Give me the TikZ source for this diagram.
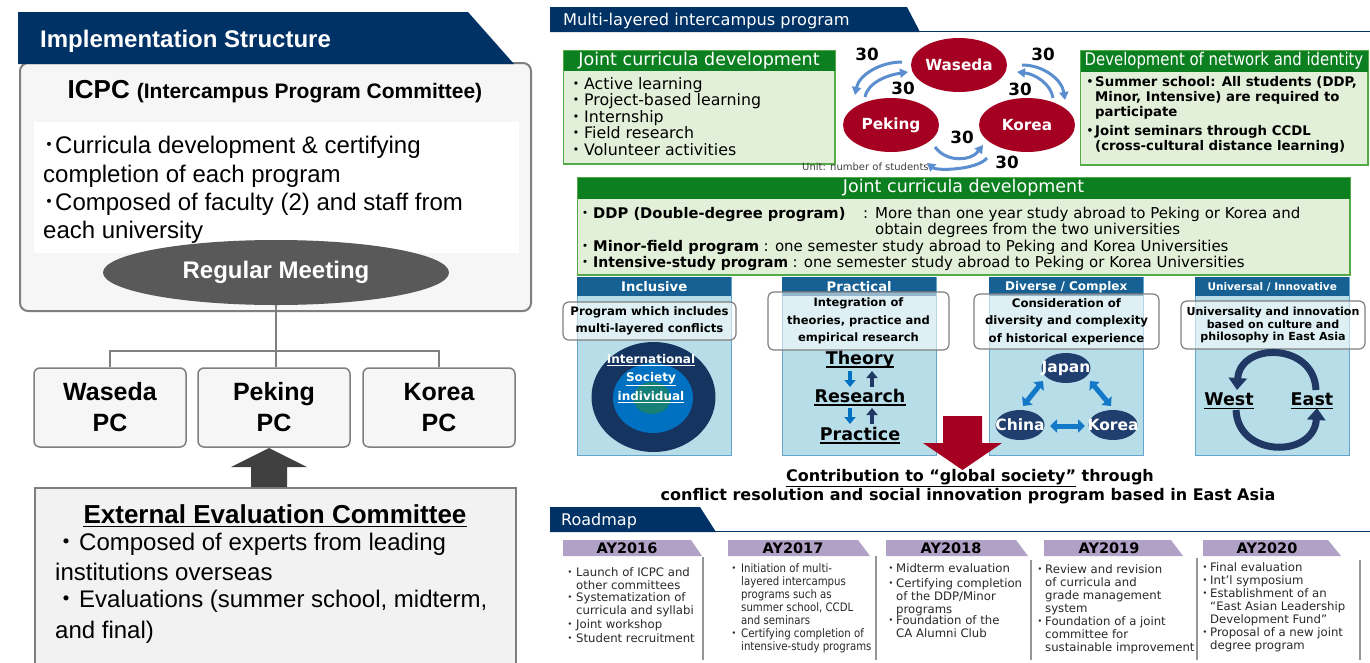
\documentclass[tikz,border=0pt]{standalone}
\usepackage{fontspec}
\setmainfont{Liberation Sans}
\newfontfamily\dv{DejaVu Sans}
\newfontfamily\jp{Noto Sans CJK JP}
\usetikzlibrary{arrows.meta,shapes.geometric,calc}
\newcommand\fsz[2]{\fontsize{#1}{#2}\selectfont}
\newcommand\jdot{{\jp ・}}
\newcommand\hjdot{{\jp ･}}
\newcommand\lns[1]{\begin{tabular}[t]{@{}l@{}}#1\end{tabular}}
\definecolor{navy}{RGB}{0,50,102}
\definecolor{gborder}{RGB}{127,127,127}
\definecolor{boxfill}{RGB}{246,246,246}
\definecolor{meet}{RGB}{89,89,89}
\definecolor{arrowgray}{RGB}{64,64,64}
\definecolor{eecfill}{RGB}{242,242,242}
\definecolor{ghead}{RGB}{12,128,32}
\definecolor{gbody}{RGB}{226,240,217}
\definecolor{gline}{RGB}{84,170,70}
\definecolor{ptab}{RGB}{22,96,148}
\definecolor{pbody}{RGB}{183,222,232}
\definecolor{pline}{RGB}{100,165,205}
\definecolor{univred}{RGB}{165,0,33}
\definecolor{larrow}{RGB}{91,142,206}
\definecolor{lav}{RGB}{178,161,199}
\definecolor{cnavyd}{RGB}{22,52,96}
\definecolor{cnavy}{RGB}{31,56,100}
\definecolor{cnavy2}{RGB}{32,62,110}
\definecolor{cblue}{RGB}{0,112,192}
\definecolor{cblue2}{RGB}{20,120,200}
\definecolor{cteal}{RGB}{22,128,118}
\definecolor{sepgray}{RGB}{150,150,150}
\definecolor{rmtext}{RGB}{40,40,40}
\definecolor{unitgray}{RGB}{64,64,64}
\newcommand\rmi[5]{\node[inner sep=0pt, anchor=base, font=\dv\fsz{11.7}{13}, text=rmtext] (#1d) at (#2,#4) {\jdot};\node[inner sep=0pt, anchor=base west, font=\dv\fsz{11.7}{13}, text=rmtext] (#1t) at (#3,#4) {\lns{#5}};}
\newcommand\rmis[5]{\node[inner sep=0pt, anchor=base, font=\dv\fsz{11.7}{13}, text=rmtext] (#1d) at (#2,#4) {\jdot};\node[inner sep=0pt, anchor=base west, font=\dv\fsz{11.7}{13}, text=rmtext] (#1t) at (#3,#4) {\scalebox{0.87}[1]{\lns{#5}}};}
\newcommand\undl[3]{\draw[line width=#3] ($(#1.base west)+(0,#2)$) -- ($(#1.base east)+(0,#2)$);}
\begin{document}
\begin{tikzpicture}[x=1pt,y=-1pt,
  txt/.style={inner sep=0pt, anchor=base west},
  ctxt/.style={inner sep=0pt, anchor=base},
  conn/.style={draw=gborder, line width=1.5pt},
  pcbox/.style={draw=gborder, fill=boxfill, line width=1.5pt, rounded corners=6pt, minimum width=152pt, minimum height=79pt, inner sep=0pt, align=center, font=\bfseries\fsz{25}{31}},
  greenbox/.style={draw=gline, fill=gbody, line width=1pt, anchor=north west, inner sep=0pt},
  redell/.style={ellipse, fill=univred, minimum width=96pt, minimum height=54pt, inner sep=0pt, text=white, font=\dv\bfseries\fsz{15.3}{18}},
  num/.style={inner sep=0pt, font=\dv\bfseries\fsz{16.8}{20}},
  cyc/.style={draw=larrow, line width=3pt, -{Triangle[length=8pt,width=9pt]}},
  pbodys/.style={draw=pline, fill=pbody, line width=0.8pt, anchor=north west, inner sep=0pt, minimum width=154pt, minimum height=178pt},
  ptabs/.style={fill=ptab, anchor=north west, inner sep=0pt, minimum width=154pt, minimum height=19pt, text=white},
  callout/.style={draw=gborder, line width=1.2pt, fill=white, fill opacity=0.55, text opacity=1, rounded corners=6pt, inner sep=0pt, align=center},
  cty/.style={ellipse, fill=cnavy2, minimum width=49pt, minimum height=30pt, inner sep=0pt},
  ctyt/.style={inner sep=0pt, text=white, font=\dv\bfseries\fsz{15.5}{18}},
  dbl/.style={draw=cblue2, line width=5pt, {Triangle[length=7pt,width=13pt]}-{Triangle[length=7pt,width=13pt]}},
  sarr/.style={line width=4pt, -{Triangle[length=7pt,width=11pt]}},
  bigword/.style={inner sep=0pt, anchor=base, font=\dv\bfseries\fsz{17.5}{20}},
  tabtxt/.style={inner sep=0pt, font=\dv\bfseries\fsz{14.5}{17}},
  sep/.style={draw=sepgray, line width=1.2pt}
]
\useasboundingbox (0,0) rectangle (1370,662);
\clip (0,0) rectangle (1370,662);
\fill[white] (0,0) rectangle (1370,662);

% ================= LEFT =================
\node[draw=gborder, fill=boxfill, line width=2pt, rounded corners=8pt, anchor=north west, minimum width=511pt, minimum height=248pt, inner sep=0pt] (icpc) at (19,62) {};
\fill[navy] (18,12) -- (468,12) -- (514,64) -- (18,64) -- cycle;
\node[txt, text=white, font=\bfseries\fsz{24}{28}] (impl) at (40,47) {Implementation Structure};
\node[ctxt, font=\bfseries] (icpct) at (275,98) {{\fsz{26}{30}ICPC}\hspace{7pt}{\fsz{21}{25}(Intercampus Program Committee)}};
\fill[white] (34,122) rectangle (519,253);
\node[ellipse, fill=meet, minimum width=346pt, minimum height=65pt, inner sep=0pt, text=white, font=\bfseries\fsz{24}{28}] (meet) at (276,272.5) {Regular Meeting};
\node[txt, font=\fsz{24}{28}] (l1) at (43,153) {\hjdot Curricula development \& certifying};
\node[txt, font=\fsz{24}{28}] (l2) at (43,182) {completion of each program};
\node[txt, font=\fsz{24}{28}] (l3) at (43,210) {\hjdot Composed of faculty (2) and staff from};
\node[txt, font=\fsz{24}{28}] (l4) at (43,238) {each university};

\node[pcbox] (wpc) at (110,407.5) {Waseda\\PC};
\node[pcbox] (ppc) at (274,407.5) {Peking\\PC};
\node[pcbox] (kpc) at (439,407.5) {Korea\\PC};
\coordinate (hub) at (276,351);
\draw[conn] (meet.south) -- (hub);
\draw[conn] (wpc.north) |- (hub) -| (kpc.north);
\draw[conn] (hub) -- (hub |- ppc.north);

\node[draw=gborder, fill=eecfill, line width=1.5pt, anchor=north west, minimum width=481pt, minimum height=220pt, inner sep=0pt] (eec) at (34,487) {};
\coordinate (upb) at (269,487);
\coordinate (upt) at (269,448);
\fill[arrowgray] ($(upb)+(-18,0)$) -- ($(upb)+(-18,-20)$) -- ($(upb)+(-38,-20)$) -- (upt) -- ($(upb)+(38,-20)$) -- ($(upb)+(18,-20)$) -- ($(upb)+(18,0)$) -- cycle;
\node[ctxt, font=\bfseries\fsz{26}{30}] (eect) at (275,523) {External Evaluation Committee};
\undl{eect}{3.5}{1.8pt}
\node[ctxt, font=\fsz{24}{28}] (ed1) at (66.5,550) {\jdot};
\node[txt, font=\fsz{24}{28}] (e1) at (79,550) {Composed of experts from leading};
\node[txt, font=\fsz{24}{28}] (e2) at (55,580) {institutions overseas};
\node[ctxt, font=\fsz{24}{28}] (ed2) at (66.5,607) {\jdot};
\node[txt, font=\fsz{24}{28}] (e3) at (79,607) {Evaluations (summer school, midterm,};
\node[txt, font=\fsz{24}{28}] (e4) at (55,638) {and final)};

% ================= RIGHT TOP =================
\fill[navy] (550,7) -- (907,7) -- (920,32) -- (550,32) -- cycle;
\draw[navy, line width=1.2pt] (919,31.4) -- (1370,31.4);
\node[txt, text=white, font=\dv\fsz{16.2}{19}] (mlt) at (563,25) {Multi-layered intercampus program};

% left green box
\node[greenbox, minimum width=271pt, minimum height=113pt] (jcd1) at (563,50) {};
\fill[ghead] (jcd1.north west) rectangle ($(jcd1.north east)+(0,21)$);
\draw[gline, line width=1pt] (jcd1.north west) rectangle (jcd1.south east);
\node[inner sep=0pt, text=white, font=\dv\fsz{17.5}{20}] (jcd1h) at ($(jcd1.north)+(0,11)$) {Joint curricula development};
\node[ctxt, font=\dv\fsz{15.8}{17}] (a1d) at (576,89) {\jdot};
\node[txt, font=\dv\fsz{15.8}{17}] (a1) at (584,89) {Active learning};
\node[ctxt, font=\dv\fsz{15.8}{17}] (a2d) at (576,105) {\jdot};
\node[txt, font=\dv\fsz{15.8}{17}] (a2) at (584,105) {Project-based learning};
\node[ctxt, font=\dv\fsz{15.8}{17}] (a3d) at (576,122) {\jdot};
\node[txt, font=\dv\fsz{15.8}{17}] (a3) at (584,122) {Internship};
\node[ctxt, font=\dv\fsz{15.8}{17}] (a4d) at (576,138) {\jdot};
\node[txt, font=\dv\fsz{15.8}{17}] (a4) at (584,138) {Field research};
\node[ctxt, font=\dv\fsz{15.8}{17}] (a5d) at (576,155) {\jdot};
\node[txt, font=\dv\fsz{15.8}{17}] (a5) at (584,155) {Volunteer activities};

% right green box
\node[greenbox, minimum width=287pt, minimum height=114pt] (dni) at (1080,50) {};
\fill[ghead] (dni.north west) rectangle ($(dni.north east)+(0,22)$);
\draw[gline, line width=1pt] (dni.north west) rectangle (dni.south east);
\node[inner sep=0pt, text=white, font=\dv\fsz{17.5}{20}] (dnih) at ($(dni.north)+(0,11)$) {\scalebox{0.85}[1]{Development of network and identity}};
\node[ctxt, font=\dv\bfseries\fsz{13.3}{15}] (b1d) at (1090,86.5) {\jdot};
\node[txt, font=\dv\bfseries\fsz{13.3}{15}] (b1) at (1095,86.5) {\lns{Summer school: All students (DDP,\\Minor, Intensive) are required to\\participate}};
\node[ctxt, font=\dv\bfseries\fsz{13.3}{15}] (b2d) at (1090,135.5) {\jdot};
\node[txt, font=\dv\bfseries\fsz{13.3}{15}] (b2) at (1095,135.5) {\lns{Joint seminars through CCDL\\(cross-cultural distance learning)}};

% circles
\node[redell] (was) at (959,65) {Waseda};
\node[redell] (pek) at (891,125) {Peking};
\node[redell] (kor) at (1027,125) {Korea};
\draw[cyc] ($(was)+(-57,-3)$) .. controls +(-22,0) and +(4,-20) .. ($(pek)+(-36,-30)$);
\draw[cyc] ($(pek)+(-26,-28)$) .. controls +(3,-15) and +(-20,3) .. ($(was)+(-51,7)$);
\draw[cyc] ($(was)+(63,0)$) .. controls +(22,0) and +(-3,-20) .. ($(kor)+(38,-25)$);
\draw[cyc] ($(kor)+(26,-27)$) .. controls +(-2,-14) and +(18,2) .. ($(was)+(58,7)$);
\draw[cyc] ($(pek)+(44,22)$) .. controls +(12,16) and +(-12,16) .. ($(kor)+(-44,20)$);
\draw[cyc] ($(kor)+(-40,33)$) .. controls +(-10,12) and +(10,8) .. ($(pek)+(36,38)$);
\node[num] (n1) at (867,54) {30};
\node[num] (n2) at (903,88) {30};
\node[num] (n3) at (1043,54) {30};
\node[num] (n4) at (1020,89) {30};
\node[num] (n5) at (962,137) {30};
\node[num] (n6) at (1007,162) {30};
\node[txt, text=unitgray, font=\dv\fsz{10}{12}] (unit) at (802,170.5) {Unit: number of students};

% big green box
\node[greenbox, minimum width=772pt, minimum height=97pt] (jcd2) at (577,177) {};
\fill[ghead] (jcd2.north west) rectangle ($(jcd2.north east)+(0,22)$);
\draw[gline, line width=1pt] (jcd2.north west) rectangle (jcd2.south east);
\node[inner sep=0pt, text=white, font=\dv\fsz{17.5}{20}] (jcd2h) at ($(jcd2.north)+(0,11)$) {Joint curricula development};
\node[ctxt, font=\dv\fsz{15}{18}] (c1d) at (585,218) {\jdot};
\node[txt, font=\dv\bfseries\fsz{14.7}{18}] (ddp) at (593,218) {DDP (Double-degree program)};
\node[txt, font=\dv\fsz{15}{18}] (ddpc) at (863,218) {:};
\node[txt, font=\dv\fsz{15}{18}] (ddp1) at (875,218) {More than one year study abroad to Peking or Korea and};
\node[txt, font=\dv\fsz{15}{18}] (ddp2) at (875,234) {obtain degrees from the two universities};
\node[ctxt, font=\dv\fsz{15}{18}] (c2d) at (585,251) {\jdot};
\node[txt, font=\dv\bfseries\fsz{14.7}{18}] (mfp) at (593,251) {Minor-field program};
\node[txt, font=\dv\fsz{15}{18}] (mfp1) at ($(mfp.base east)+(4,0)$) {: one semester study abroad to Peking and Korea Universities};
\node[ctxt, font=\dv\fsz{15}{18}] (c3d) at (585,267) {\jdot};
\node[txt, font=\dv\bfseries\fsz{14.7}{18}] (isp) at (593,267) {\scalebox{0.95}[1]{Intensive-study program}};
\node[txt, font=\dv\fsz{15}{18}] (isp1) at ($(isp.base east)+(4,0)$) {: one semester study abroad to Peking or Korea Universities};

% ================= PANELS =================
\node[pbodys] (p1) at (577,277) {};
\node[ptabs, font=\dv\bfseries\fsz{13.2}{16}] (p1h) at (577,277) {Inclusive};
\node[pbodys] (p2) at (782,277) {};
\node[ptabs, font=\dv\bfseries\fsz{13.2}{16}] (p2h) at (782,277) {Practical};
\node[pbodys] (p3) at (989,277) {};
\node[ptabs, font=\dv\bfseries\fsz{12}{15}] (p3h) at (989,277) {Diverse / Complex};
\node[pbodys] (p4) at (1195,277) {};
\node[ptabs, font=\dv\bfseries\fsz{10.5}{13}] (p4h) at (1195,277) {Universal / Innovative};

\node[callout, minimum width=173pt, minimum height=38pt, font=\dv\bfseries\fsz{11.7}{17}] (co1) at (649.5,321) {Program which includes\\multi-layered conflicts};
\node[callout, minimum width=181pt, minimum height=58pt, font=\dv\bfseries\fsz{11.5}{17.5}] (co2) at (858.5,321) {Integration of\\theories, practice and\\empirical research};
\node[callout, minimum width=185pt, minimum height=55pt, font=\dv\bfseries\fsz{11.7}{17.5}] (co3) at (1066.5,321.5) {Consideration of\\diversity and complexity\\of historical experience};
\node[callout, minimum width=184pt, minimum height=48pt, font=\dv\bfseries\fsz{11.1}{12.7}] (co4) at (1273,325) {Universality and innovation\\based on culture and\\philosophy in East Asia};

% P1 circles
\node[ellipse, fill=cnavyd, minimum width=124pt, minimum height=110pt, inner sep=0pt] (outer) at (653.5,397) {};
\node[ellipse, fill=cblue, minimum width=80pt, minimum height=70pt, inner sep=0pt] (middle) at (653,398) {};
\node[ellipse, fill=cteal, minimum width=37pt, minimum height=32pt, inner sep=0pt] (inner) at (652,398) {};
\node[ctxt, text=white, font=\dv\bfseries\fsz{12}{14}] (intl) at (651,363.5) {\underline{International}};
\node[ctxt, text=white, font=\dv\bfseries\fsz{12}{14}] (soc) at (651,381.5) {\underline{Society}};
\node[ctxt, text=white, font=\dv\bfseries\fsz{12}{14}] (indv) at (651,400.5) {\underline{individual}};

% P2
\node[bigword] (theory) at (860,364) {Theory};
\undl{theory}{3}{1.3pt}
\node[bigword] (research) at (860,402) {Research};
\undl{research}{3}{1.3pt}
\node[bigword] (practice) at (860,440) {Practice};
\undl{practice}{3}{1.3pt}
\draw[sarr, cblue] ($(theory.base)+(-10,7)$) -- ($(theory.base)+(-10,23)$);
\draw[sarr, cnavy] ($(theory.base)+(12,23)$) -- ($(theory.base)+(12,7)$);
\draw[sarr, cblue] ($(research.base)+(-10,6)$) -- ($(research.base)+(-10,22)$);
\draw[sarr, cnavy] ($(research.base)+(12,22)$) -- ($(research.base)+(12,6)$);

% P3
\node[cty] (jpnE) at (1066,368) {};
\node[cty] (chnE) at (1020,425) {};
\node[cty] (korE) at (1113,425) {};
\node[ctyt] (jpn) at (jpnE) {Japan};
\node[ctyt] (chn) at (chnE) {China};
\node[ctyt] (kr) at (korE) {Korea};
\draw[dbl] ($(jpnE)+(-23,13)$) -- ($(chnE)+(3,-19)$);
\draw[dbl] ($(jpnE)+(24,13)$) -- ($(korE)+(-2,-19)$);
\draw[dbl] ($(chnE)+(30,1)$) -- ($(korE)+(-28,1)$);

% P4
\coordinate (wc) at (1277,400);
\draw[line width=7pt, cnavy, -{Triangle[length=12pt,width=18pt]}] ($(wc)+(39,-10)$) .. controls ($(wc)+(37,-58)$) and ($(wc)+(-37,-58)$) .. ($(wc)+(-40,-10)$);
\draw[line width=7pt, cnavy, -{Triangle[length=12pt,width=18pt]}] ($(wc)+(-41,10)$) .. controls ($(wc)+(-39,58)$) and ($(wc)+(37,58)$) .. ($(wc)+(40,8)$);
\node[bigword] (west) at (1229,405.3) {West};
\undl{west}{3}{1.3pt}
\node[bigword] (east) at (1312,405.3) {East};
\undl{east}{3}{1.3pt}

% red arrow
\coordinate (rb) at (962.5,416);
\coordinate (rt) at (962.5,470);
\fill[univred] ($(rb)+(-19.5,0)$) -- ($(rb)+(19.5,0)$) -- ($(rb)+(19.5,27)$) -- ($(rb)+(39.5,27)$) -- (rt) -- ($(rb)+(-39.5,27)$) -- ($(rb)+(-19.5,27)$) -- cycle;

\node[ctxt, font=\dv\bfseries\fsz{16}{19}] (contr) at (970,481) {\underline{Contribution to “global society”} through};
\node[ctxt, font=\dv\bfseries\fsz{16}{19}] (contr2) at (968,500.5) {conflict resolution and social innovation program based in East Asia};

% ================= ROADMAP =================
\fill[navy] (550,507) -- (700,507) -- (716,532) -- (550,532) -- cycle;
\draw[navy, line width=1.2pt] (715,531.4) -- (1370,531.4);
\node[txt, text=white, font=\dv\fsz{16}{19}] (rmap) at (561,525) {Roadmap};

\fill[lav] (563,540) -- (691,540) -- (702,556) -- (563,556) -- cycle;
\fill[lav] (728,540) -- (858,540) -- (870,556) -- (728,556) -- cycle;
\fill[lav] (886,540) -- (1016,540) -- (1028,556) -- (886,556) -- cycle;
\fill[lav] (1044,540) -- (1171,540) -- (1183,556) -- (1044,556) -- cycle;
\fill[lav] (1203,540) -- (1328,540) -- (1341,556) -- (1203,556) -- cycle;
\node[tabtxt] (ay16) at (627,548) {AY2016};
\node[tabtxt] (ay17) at (793,548) {AY2017};
\node[tabtxt] (ay18) at (951,548) {AY2018};
\node[tabtxt] (ay19) at (1109,548) {AY2019};
\node[tabtxt] (ay20) at (1267,548) {AY2020};

\draw[sep] (703,557) -- (703,660);
\draw[sep] (876,556) -- (876,660);
\draw[sep] (1031,560) -- (1031,660);
\draw[sep] (1197,558) -- (1197,660);
\draw[sep] (1360,560) -- (1360,660);

\rmi{r1a}{570}{576}{576}{Launch of ICPC and\\other committees}
\rmi{r1b}{570}{576}{601}{Systematization of\\curricula and syllabi}
\rmi{r1c}{570}{576}{628}{Joint workshop}
\rmi{r1d}{570}{576}{642}{Student recruitment}
\rmis{r2a}{734}{741}{572}{Initiation of multi-\\layered intercampus\\programs such as\\summer school, CCDL\\and seminars}
\rmis{r2b}{734}{741}{637}{Certifying completion of\\intensive-study programs}
\rmi{r3a}{891}{896}{572}{Midterm evaluation}
\rmi{r3b}{891}{896}{587}{Certifying completion\\of the DDP/Minor\\programs}
\rmi{r3c}{891}{896}{624}{Foundation of the\\CA Alumni Club}
\rmi{r4a}{1040}{1045}{573}{Review and revision\\of curricula and\\grade management\\system}
\rmi{r4b}{1040}{1045}{625}{Foundation of a  joint\\committee for\\sustainable improvement}
\rmi{r5a}{1205}{1210}{571}{Final evaluation}
\rmi{r5b}{1205}{1210}{584}{Int’l symposium}
\rmi{r5c}{1205}{1210}{597}{Establishment of an\\“East Asian Leadership\\Development Fund”}
\rmi{r5d}{1205}{1210}{636}{Proposal of a new joint\\degree program}
\end{tikzpicture}
\end{document}
